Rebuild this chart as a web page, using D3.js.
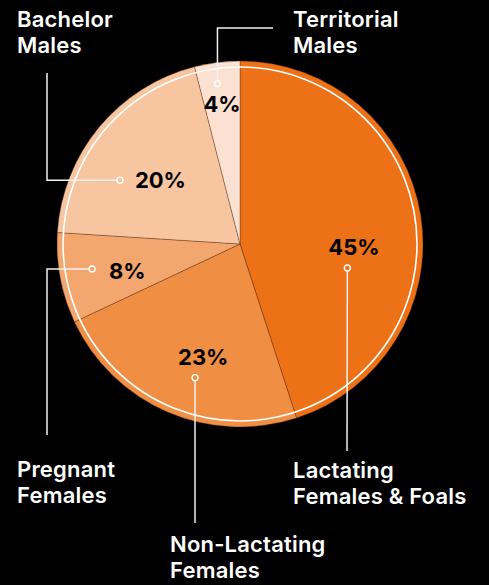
<!DOCTYPE html>
<html>
<head>
<meta charset="utf-8">
<script src="https://cdn.jsdelivr.net/npm/d3@7"></script>
<style>
  html, body { margin: 0; padding: 0; background: #000; }
  svg { display: block; }
</style>
</head>
<body>
<div id="chart"></div>
<script>
// data (clockwise from 12 o'clock)
const categories = ["Lactating Females & Foals", "Non-Lactating Females", "Pregnant Females", "Bachelor Males", "Territorial Males"];
const shares = [45, 23, 8, 20, 4];
const colors = ["#ed7117", "#f08e43", "#f3a76f", "#f7c6a0", "#fbe1d2"];
const labelLines = [["Lactating", "Females & Foals"], ["Non-Lactating", "Females"], ["Pregnant", "Females"], ["Bachelor", "Males"], ["Territorial", "Males"]];

const width = 489, height = 585;
const cx = 240, cy = 244, radius = 183;

const svg = d3.select("#chart").append("svg")
    .attr("width", width)
    .attr("height", height);

svg.append("rect").attr("width", width).attr("height", height).attr("fill", "#000");

const g = svg.append("g").attr("transform", `translate(${cx},${cy})`);

const pie = d3.pie().sort(null).value(d => d);
const arcs = pie(shares);
const arc = d3.arc().innerRadius(0).outerRadius(radius);

g.selectAll("path.slice")
  .data(arcs)
  .enter()
  .append("path")
  .attr("class", "slice")
  .attr("d", arc)
  .attr("fill", (d, i) => colors[i])
  .attr("stroke", "rgba(90,40,10,0.45)")
  .attr("stroke-width", 0.8);

// thin white ring just inside the edge
g.append("circle")
  .attr("r", radius - 6)
  .attr("fill", "none")
  .attr("stroke", "#fff")
  .attr("stroke-width", 1.6);

const polar = (a, r) => [Math.sin(a) * r, -Math.cos(a) * r];
const rad = deg => deg * Math.PI / 180;

// percent labels: [angle from top in degrees, distance from centre]
const pctPos = [[91.5, 114], [198, 119], [256.5, 116], [308.7, 102], [352.7, 141]];

g.selectAll("text.pct")
  .data(arcs)
  .enter()
  .append("text")
  .attr("class", "pct")
  .attr("transform", (d, i) => `translate(${polar(rad(pctPos[i][0]), pctPos[i][1])})`)
  .attr("text-anchor", "middle")
  .attr("dy", "0.36em")
  .attr("font-family", "Inter, 'Open Sans', sans-serif")
  .attr("font-weight", 700)
  .attr("font-size", 22)
  .attr("fill", "#000")
  .text(d => d.data + "%");

// callouts: dot (angle in degrees from top, radius) and leader path in page coords
const callouts = [
  { dot: [102.6, 110], path: [[347, 451]], text: [293, 478] },
  { dot: [198.6, 141], path: [[195, 523]], text: [170, 552] },
  { dot: [260.4, 150], path: [[47, null], [47, 435]], text: [17, 477] },
  { dot: [298, 136], path: [[47, null], [47, 73]], text: [17, 27] },
  { dot: [352, 162], path: [[null, 28], [273, 28]], text: [293, 27] }
];

callouts.forEach((c, i) => {
  const [dx, dy] = polar(rad(c.dot[0]), c.dot[1]);
  const x0 = cx + dx, y0 = cy + dy;
  const pts = [[x0, y0]];
  c.path.forEach(p => {
    const last = pts[pts.length - 1];
    pts.push([p[0] == null ? last[0] : p[0], p[1] == null ? last[1] : p[1]]);
  });
  svg.append("path")
    .attr("d", d3.line()(pts))
    .attr("fill", "none")
    .attr("stroke", "#f2f2f2")
    .attr("stroke-width", 1.5);
  svg.append("circle")
    .attr("cx", x0).attr("cy", y0).attr("r", 3)
    .attr("fill", colors[i])
    .attr("stroke", "#fff")
    .attr("stroke-width", 1.4);

  const t = svg.append("text")
    .attr("x", c.text[0]).attr("y", c.text[1])
    .attr("font-family", "Inter, 'Open Sans', sans-serif")
    .attr("font-weight", 600)
    .attr("font-size", 22)
    .attr("letter-spacing", 0.2)
    .attr("fill", "#fff");
  labelLines[i].forEach((line, j) => {
    t.append("tspan").attr("x", c.text[0]).attr("dy", j ? 26 : 0).text(line);
  });
});
</script>
</body>
</html>
